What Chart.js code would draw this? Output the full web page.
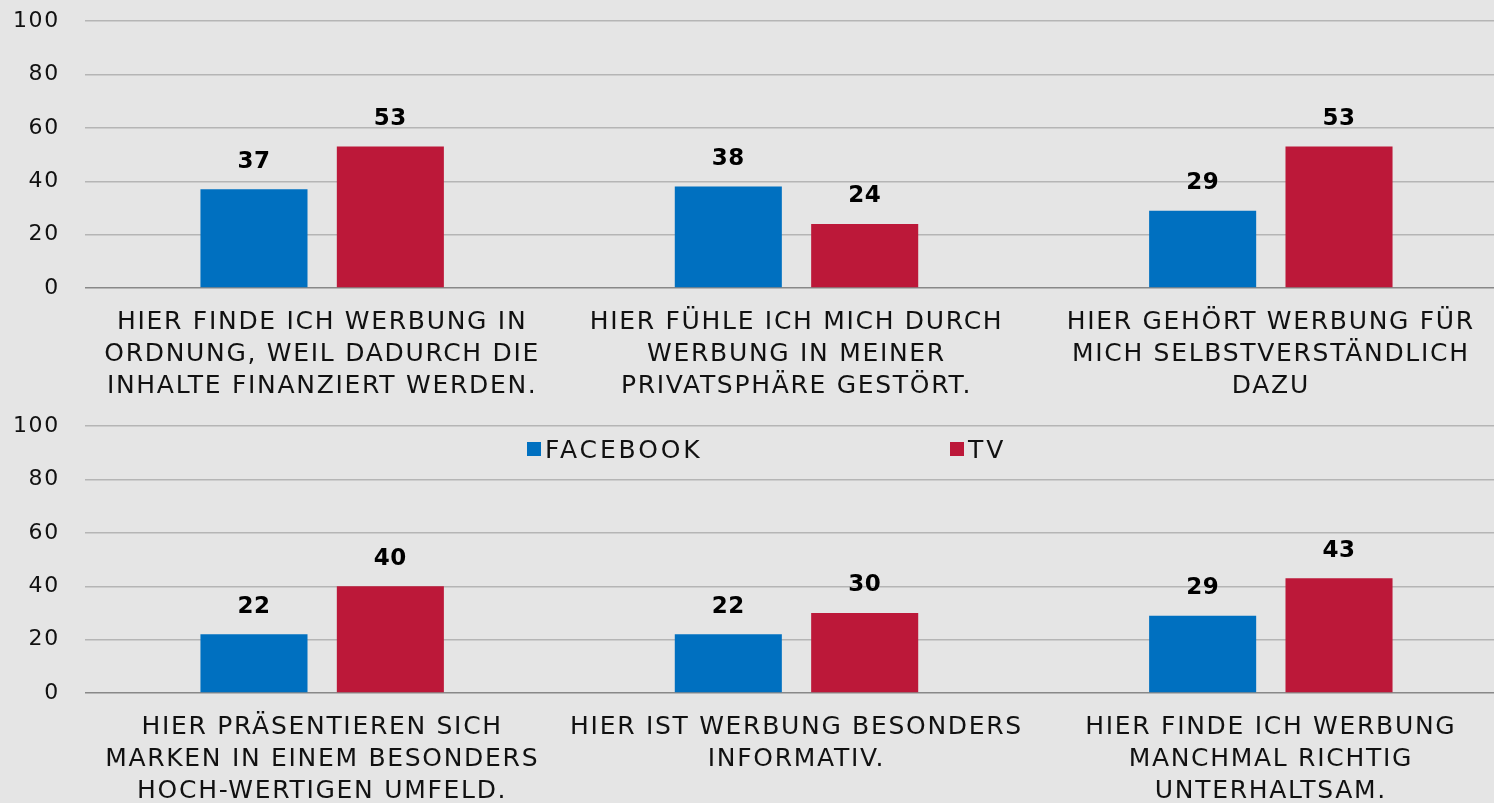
<!DOCTYPE html>
<html>
<head>
<meta charset="utf-8">
<script src="https://cdn.jsdelivr.net/npm/chart.js@4.4.1/dist/chart.umd.min.js"></script>
<style>
  html, body { margin: 0; padding: 0; background: #e5e5e5; overflow: hidden; width: 1494px; height: 803px; }
  .box { position: absolute; left: 0; width: 1508px; height: 422px; }
  #legend { position: absolute; top: 435px; left: 0; width: 1494px; font-family: "DejaVu Sans", sans-serif; font-size: 25px; letter-spacing: 2.9px; color: #111; }
  #legend span { position: absolute; white-space: nowrap; }
  #legend i { display: inline-block; width: 14px; height: 14px; margin-right: 4px; vertical-align: 2px; }
</style>
</head>
<body>
<div class="box" style="top:-17px"><canvas id="chartTop"></canvas></div>
<div class="box" style="top:388px"><canvas id="chartBottom"></canvas></div>
<div id="legend"></div>
<script>
// data
var seriesNames = ['FACEBOOK', 'TV'];
var seriesColors = ['#0070c0', '#bc1839'];

var topLabels = [
    ['HIER FINDE ICH WERBUNG IN', 'ORDNUNG, WEIL DADURCH DIE', 'INHALTE FINANZIERT WERDEN.'],
    ['HIER FÜHLE ICH MICH DURCH', 'WERBUNG IN MEINER', 'PRIVATSPHÄRE GESTÖRT.'],
    ['HIER GEHÖRT WERBUNG FÜR', 'MICH SELBSTVERSTÄNDLICH', 'DAZU']
];
var topFacebook = [37, 38, 29];
var topTV = [53, 24, 53];

var bottomLabels = [
    ['HIER PRÄSENTIEREN SICH', 'MARKEN IN EINEM BESONDERS', 'HOCH-WERTIGEN UMFELD.'],
    ['HIER IST WERBUNG BESONDERS', 'INFORMATIV.'],
    ['HIER FINDE ICH WERBUNG', 'MANCHMAL RICHTIG', 'UNTERHALTSAM.']
];
var bottomFacebook = [22, 22, 29];
var bottomTV = [40, 30, 43];

var yTicks = [0, 20, 40, 60, 80, 100];

var FONT = '"DejaVu Sans", sans-serif';

// wider letters, closer to the original typeface
var spacing = {
    id: 'spacing',
    beforeUpdate: function (chart) { chart.ctx.letterSpacing = '1.7px'; },
    beforeDraw: function (chart) { chart.ctx.letterSpacing = '1.7px'; }
};

// value labels above the bars
var valueLabels = {
    id: 'valueLabels',
    afterDatasetsDraw: function (chart) {
        var ctx = chart.ctx;
        ctx.save();
        ctx.letterSpacing = '0.5px';
        ctx.font = 'bold 23px ' + FONT;
        ctx.fillStyle = '#000';
        ctx.textAlign = 'center';
        ctx.textBaseline = 'bottom';
        chart.data.datasets.forEach(function (ds, i) {
            chart.getDatasetMeta(i).data.forEach(function (bar, j) {
                ctx.fillText(ds.data[j], bar.x, bar.y - 16);
            });
        });
        ctx.restore();
    }
};

function makeChart(id, labels, fb, tv) {
    var canvas = document.getElementById(id);
    canvas.width = 1508;
    canvas.height = 422;
    var ctx = canvas.getContext('2d');
    return new Chart(ctx, {
        type: 'bar',
        data: {
            labels: labels,
            datasets: [
                { label: seriesNames[0], data: fb, backgroundColor: seriesColors[0] },
                { label: seriesNames[1], data: tv, backgroundColor: seriesColors[1] }
            ]
        },
        options: {
            responsive: false,
            animation: false,
            devicePixelRatio: 1,
            layout: { padding: { top: 1, left: 0, right: 0, bottom: 0 } },
            categoryPercentage: 0.575,
            barPercentage: 0.785,
            plugins: { legend: { display: false }, tooltip: { enabled: false } },
            scales: {
                x: {
                    grid: { display: false },
                    border: { display: false },
                    ticks: { color: '#111', font: { family: FONT, size: 25, lineHeight: 1.28 }, padding: 10, maxRotation: 0, autoSkip: false },
                    afterFit: function (s) { s.height = 117; }
                },
                y: {
                    min: 0, max: 100,
                    afterBuildTicks: function (s) { s.ticks = yTicks.map(function (v) { return { value: v }; }); },
                    grid: {
                        drawTicks: false,
                        lineWidth: 1.5,
                        color: function (c) { return c.tick && c.tick.value === 0 ? '#888888' : '#b5b5b5'; }
                    },
                    border: { display: false },
                    ticks: { color: '#111', font: { family: FONT, size: 22 }, padding: 25 },
                    afterFit: function (s) { s.width = 85; }
                }
            }
        },
        plugins: [spacing, valueLabels]
    });
}

makeChart('chartTop', topLabels, topFacebook, topTV);
makeChart('chartBottom', bottomLabels, bottomFacebook, bottomTV);

// legend
var legendPos = [527, 950];
var legend = document.getElementById('legend');
seriesNames.forEach(function (name, i) {
    var s = document.createElement('span');
    s.style.left = legendPos[i] + 'px';
    s.innerHTML = '<i style="background:' + seriesColors[i] + '"></i>' + name;
    legend.appendChild(s);
});
</script>
</body>
</html>
